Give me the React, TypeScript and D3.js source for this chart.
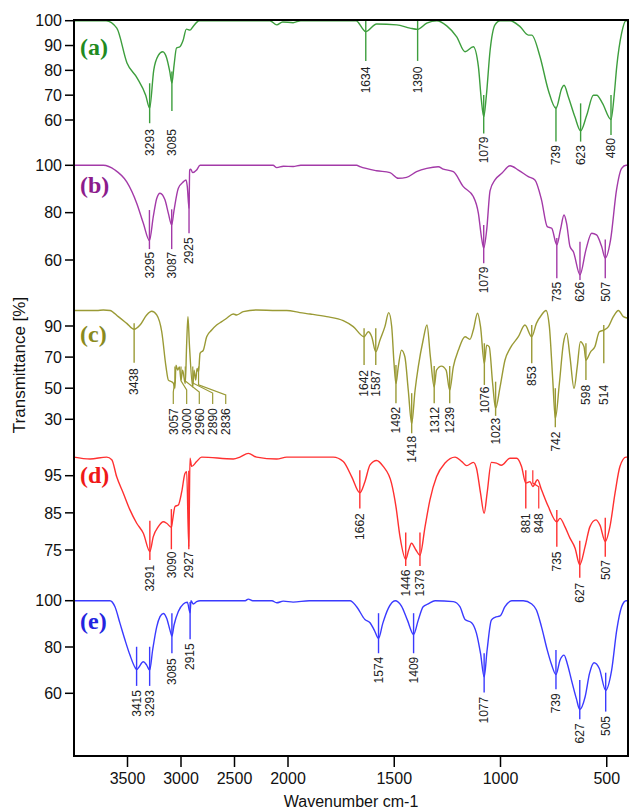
import React from "react";
import * as d3 from "d3";

// ---------- data ----------
const xBreaks = [4000, 2000, 400];
const xTicks = [3500, 3000, 2500, 2000, 1500, 1000, 500];

type P = [number, number];

const specA: P[] = [
  [4000, 100], [3700, 100], [3600, 97], [3505, 83], [3411, 77], [3330, 70], [3293, 64.8], [3255, 80],
  [3212, 86], [3171, 87.5], [3134, 85], [3105, 79.5], [3085, 74.9], [3065, 82], [3042, 89], [3010, 89.5],
  [2981, 92], [2950, 96.6], [2916, 96.2], [2888, 97.6], [2830, 100], [2170, 100], [2105, 98.3], [2050, 99.5],
  [1976, 99.2], [1940, 100], [1680, 100], [1634, 95.6], [1583, 98.7], [1488, 98.3], [1426, 97], [1390, 96.5],
  [1347, 99], [1300, 100], [1253, 97.9], [1206, 93.5], [1167, 87.5], [1128, 89.5], [1104, 81.5], [1090, 68],
  [1079, 61.3], [1067, 69.4], [1049, 88], [1026, 98.3], [1002, 100], [955, 100], [908, 97.6], [869, 94.2],
  [853, 94.2], [814, 85.5], [775, 72], [739, 64.7], [712, 72.7], [701, 74], [681, 69.4], [650, 61.3],
  [623, 55.6], [594, 62], [563, 70], [547, 70], [520, 66.7], [480, 60.2], [465, 70], [453, 81.5],
  [430, 95], [410, 100], [400, 100],
];

const specB: P[] = [
  [4000, 100], [3726, 100], [3617, 98], [3507, 93], [3414, 84], [3352, 75.5], [3295, 68.2], [3259, 78.3],
  [3227, 86], [3196, 88.2], [3150, 85.4], [3118, 79.7], [3087, 74.8], [3065, 81], [3025, 90.3], [2978, 93],
  [2953, 93.8], [2941, 91], [2925, 81.8], [2919, 98], [2910, 98.4], [2891, 96.9], [2854, 98], [2822, 100],
  [2140, 100], [2105, 99], [2043, 99.6], [1976, 99.5], [1940, 100], [1677, 100], [1661, 99.4], [1583, 97.7],
  [1520, 96.9], [1481, 94.5], [1442, 94.9], [1395, 97.3], [1347, 98.7], [1293, 99.4], [1269, 98.4], [1222, 97.3],
  [1175, 91], [1128, 86.8], [1104, 79.7], [1090, 69.9], [1079, 65], [1065, 72.7], [1049, 89.3], [1026, 93.8],
  [994, 96.6], [955, 99.8], [916, 98], [869, 95.2], [838, 93.8], [807, 85.4], [780, 74.1], [759, 73.4],
  [735, 66.4], [718, 72.7], [701, 79], [689, 75.5], [673, 65.7], [657, 63.5], [626, 53.7], [598, 64.3],
  [571, 71.3], [548, 70.6], [524, 65.7], [507, 60.8], [482, 68.5], [454, 89.6], [430, 98.7], [409, 100],
  [400, 100],
];

const specC: P[] = [
  [4000, 100], [3787, 100], [3726, 100.3], [3664, 100], [3586, 96], [3507, 91.7], [3438, 87.9], [3383, 90.6],
  [3321, 97.1], [3274, 99.5], [3227, 97.1], [3180, 86.3], [3140, 63.7], [3118, 55.2], [3087, 54.1], [3070, 53],
  [3057, 49.8], [3047, 64.8], [3031, 61.6], [3015, 63.7], [3000, 55.2], [2985, 61.6], [2960, 53], [2947, 78.8],
  [2935, 96], [2922, 78.8], [2890, 50.8], [2878, 61.6], [2862, 55.2], [2850, 62.7], [2836, 60.5], [2822, 72.4],
  [2791, 74.5], [2760, 83.1], [2713, 87.4], [2667, 90.6], [2620, 92.8], [2573, 95], [2511, 97.7], [2480, 97.1],
  [2418, 99.2], [2293, 100.3], [2106, 100], [2012, 100], [1944, 98.6], [1896, 97.7], [1818, 96], [1740, 93.4],
  [1693, 89.6], [1642, 83.1], [1622, 86.3], [1606, 83.1], [1587, 73.4], [1567, 81], [1544, 89.6], [1526, 98.6],
  [1512, 89.6], [1501, 65.9], [1492, 53], [1481, 63.7], [1466, 74.5], [1450, 70.2], [1434, 48.7], [1418, 27.2],
  [1402, 48.7], [1387, 63.7], [1364, 81], [1346, 90.6], [1330, 70.2], [1312, 50.8], [1301, 61.6], [1278, 64.2],
  [1256, 61.6], [1239, 48.7], [1222, 63.7], [1198, 74.5], [1167, 83.1], [1144, 81.4], [1128, 87.4], [1108, 98.2],
  [1094, 89.6], [1076, 65.9], [1065, 77.7], [1053, 76.6], [1037, 53], [1023, 37], [1002, 50.8], [979, 68],
  [955, 75.6], [916, 83.1], [885, 90.6], [853, 83.1], [831, 91.7], [807, 97.1], [786, 100], [770, 89.6],
  [754, 55.2], [742, 30.5], [723, 53], [704, 78.8], [689, 85.3], [673, 70.2], [654, 49.8], [639, 63.7],
  [624, 79.9], [607, 76.6], [598, 68], [576, 73.4], [556, 76.6], [535, 86.3], [514, 87.4], [492, 89.6],
  [469, 96], [445, 100], [422, 96], [400, 95],
];

const specD: P[] = [
  [4000, 100], [3850, 99.5], [3694, 100], [3647, 99.3], [3601, 94.7], [3539, 90.3], [3477, 85.8], [3414, 82.2],
  [3352, 79.5], [3291, 74.6], [3259, 78.6], [3212, 81.3], [3165, 82.6], [3134, 82.2], [3090, 81.1], [3078, 83.1],
  [3056, 86.7], [3025, 87.1], [2993, 90.7], [2963, 95.6], [2947, 96.1], [2927, 75.9], [2916, 99.7], [2900, 97.5],
  [2854, 98.8], [2807, 100], [2511, 99.5], [2449, 100], [2371, 101], [2293, 100], [2106, 99.5], [2012, 100],
  [1787, 100], [1740, 98.8], [1700, 94.7], [1662, 90.4], [1638, 93.4], [1614, 97.9], [1583, 99.1], [1552, 97.5],
  [1513, 93], [1492, 86.7], [1473, 78.6], [1446, 72.5], [1432, 75], [1419, 76.8], [1398, 75], [1379, 73.6],
  [1355, 81.3], [1332, 88.5], [1301, 94.7], [1261, 98.4], [1214, 100], [1182, 98.8], [1159, 97.7], [1128, 98.6],
  [1113, 97], [1094, 90.3], [1077, 84.9], [1063, 90.3], [1043, 98.6], [1019, 98.4], [996, 97.8], [955, 99.7],
  [924, 99.7], [901, 97.5], [881, 93], [861, 93.4], [848, 92.1], [826, 93.9], [807, 91.2], [775, 86.7],
  [735, 82.6], [720, 83.5], [697, 81.3], [673, 78.2], [649, 75.5], [627, 71], [602, 75.9], [579, 81.3],
  [551, 83.1], [532, 81.7], [507, 77.3], [485, 81.3], [461, 90.3], [438, 97.5], [409, 100], [400, 100],
];

const specE: P[] = [
  [4000, 100], [3664, 100], [3617, 97.4], [3570, 90.2], [3523, 83], [3477, 76.5], [3430, 71.2], [3415, 70.3],
  [3352, 73.6], [3321, 72.2], [3293, 70], [3265, 78.7], [3227, 88.7], [3196, 93.1], [3165, 94.5], [3134, 92.4],
  [3103, 87.3], [3085, 84.7], [3065, 89.5], [3025, 95.3], [2978, 98.6], [2941, 99.3], [2915, 94.8], [2907, 100],
  [2885, 98.6], [2854, 99.6], [2822, 100], [2400, 100], [2371, 100.7], [2330, 100], [2150, 100], [2106, 99.1],
  [2044, 99.8], [1976, 99.4], [1900, 100], [1708, 100], [1677, 97.4], [1638, 91.9], [1614, 90.5], [1594, 87.3],
  [1574, 83.7], [1554, 90.2], [1528, 96.7], [1496, 100], [1466, 97.7], [1438, 91.6], [1409, 85.4], [1387, 91.6],
  [1364, 97.4], [1340, 98.6], [1308, 100], [1222, 99.6], [1191, 97.4], [1167, 91.9], [1136, 90.5], [1113, 85.9],
  [1094, 77.2], [1077, 67.1], [1063, 78.7], [1043, 91.6], [1026, 92.8], [1002, 93.4], [979, 97.4], [947, 100],
  [893, 100], [853, 98.6], [831, 96], [807, 88.7], [780, 78.7], [759, 72.2], [739, 68.1], [720, 74.3],
  [701, 76.5], [686, 72.9], [666, 65.7], [643, 57.7], [627, 53], [602, 58.4], [581, 68.6], [560, 73.2],
  [535, 70.7], [505, 61.3], [477, 70], [453, 87.3], [430, 97.4], [409, 100], [400, 100],
];

// peak annotations: [wavenumber, line top, line bottom, label top] (transmittance units)
type Pk = [number, number, number, number];
const peaksA: Pk[] = [
  [3293, 74.8, 58.7, 56.3], [3085, 79.5, 63.6, 56.3], [1634, 100, 83.8, 81.5], [1390, 100, 83.8, 81.5],
  [1079, 70.1, 54.6, 53.3], [739, 65.4, 51.3, 49.9], [623, 66.7, 51.3, 49.9], [480, 70.1, 54, 52.7],
];
const peaksB: Pk[] = [
  [3295, 81.1, 64.6, 63.5], [3087, 81.4, 64.6, 63.5], [2925, 87.5, 71.3, 69.6], [1079, 74.8, 58.6, 57.2],
  [735, 69.3, 52.3, 50.8], [626, 67.7, 51.6, 50.8], [507, 68.7, 52.3, 50.8],
];
const peaksC: Pk[] = [
  [3438, 91.8, 66.4, 62.8], [1642, 88.6, 65, 61.7], [1587, 88.6, 65, 61.7], [1492, 65, 40.3, 38.1],
  [1418, 46.8, 21, 19.3], [1312, 64.3, 40.3, 38.1], [1239, 64.3, 40.3, 38.1], [1076, 78.9, 52.1, 51],
  [1023, 54.2, 32.2, 30.9], [853, 90.7, 66, 64.3], [742, 50, 24.9, 22.1], [598, 78.9, 55.3, 52.1],
  [514, 90.7, 66, 52.1],
];
const peaksD: Pk[] = [
  [3291, 82.9, 72.3, 71], [3090, 86, 75.2, 74.6], [2927, 96.3, 75.2, 74.6], [1662, 96.5, 86.2, 84.9],
  [1446, 79.7, 70.7, 69.7], [1379, 79.7, 70.7, 69.7], [881, 96.5, 86.2, 84.9], [735, 85.8, 75.9, 74.6],
  [627, 77.5, 67.5, 66.2], [507, 83.7, 73.2, 72.3],
];
const peaksE: Pk[] = [
  [3415, 80.1, 63.2, 61.4], [3293, 80.1, 63.2, 61.4], [3085, 94.6, 77.3, 75.1], [2915, 99.4, 83.3, 81.6],
  [1574, 94.6, 77.3, 75.8], [1409, 94.6, 77.3, 75.8], [1077, 77.3, 60.3, 58.5], [739, 78.7, 61.7, 60],
  [627, 65.7, 48.8, 47], [505, 68.9, 52.1, 50.2],
];

// leader annotations: [peak wn, label wn, top, bend at peak, bend at label, bottom, label top]
type Ld = [number, number, number, number, number, number, number];
const leadersC: Ld[] = [
  [3057, 3072, 63.9, 54.7, 47.6, 39.9, 37.1],
  [3000, 2947, 63.9, 54.7, 48.9, 39.9, 37.1],
  [2960, 2829, 63.9, 54.7, 47.6, 39.9, 37.1],
  [2890, 2704, 63.9, 53.4, 46.9, 39.9, 37.1],
  [2836, 2582, 63.9, 52.1, 45.7, 39.9, 37.1],
];
const leadersD: Ld[] = [[848, 820, 96.5, 93, 92, 86.2, 84.9]];

const panelLabels = ["(a)", "(b)", "(c)", "(d)", "(e)"];
const spectra = [specA, specB, specC, specD, specE];
const peakSets = [peaksA, peaksB, peaksC, peaksD, peaksE];
const leaderSets: Ld[][] = [[], [], leadersC, leadersD, []];
const yDomains: [number, number][] = [[60, 100], [60, 100], [30, 90], [75, 95], [60, 100]];
const yTickSets = [[100, 90, 80, 70, 60], [100, 80, 60], [90, 70, 50, 30], [95, 85, 75], [100, 80, 60]];

// ---------- styles / layout ----------
const lineColors = ["#3d9e3d", "#a33aa8", "#9a9a35", "#ff3030", "#3a3aff"];
const labelColors = ["#218a21", "#8c1c8c", "#8a8a1e", "#f01818", "#2424e0"];
const yRanges: [number, number][] = [[120, 20.7], [260, 165.3], [419.3, 326], [550, 475.7], [693.3, 600.7]];
const labelYs = [55, 193, 342, 483, 629];

const L = 74, R = 628, T = 20, B = 756;
const SANS = "'Liberation Sans', Arial, Helvetica, sans-serif";

export default function App() {
  const x = d3.scaleLinear().domain(xBreaks).range([L, 288, R]);

  return (
    <svg width={630} height={812} style={{ position: "absolute", left: 0, top: 0, background: "#fff" }}
      fontFamily={SANS}>
      <rect x={0} y={0} width={630} height={812} fill="#fff" />
      {spectra.map((spec, i) => {
        const y = d3.scaleLinear().domain(yDomains[i]).range(yRanges[i]);
        const line = d3.line<P>().x((d) => x(d[0])).y((d) => y(d[1])).curve(d3.curveMonotoneX);
        const col = lineColors[i];
        return (
          <g key={i}>
            <path d={line(spec) || ""} fill="none" stroke={col} strokeWidth={1.4} strokeLinejoin="round" />
            {peakSets[i].map((p, j) => (
              <g key={j}>
                <line x1={x(p[0])} x2={x(p[0])} y1={y(p[1])} y2={y(p[2])} stroke={col} strokeWidth={1.4} />
                <text transform={`translate(${x(p[0])},${y(p[3])}) rotate(-90)`} textAnchor="end" dy="0.36em"
                  fontSize={12} fill="#222">{p[0]}</text>
              </g>
            ))}
            {leaderSets[i].map((p, j) => {
              const pts = [[x(p[0]), y(p[2])], [x(p[0]), y(p[3])], [x(p[1]), y(p[4])], [x(p[1]), y(p[5])]];
              return (
                <g key={"l" + j}>
                  <polyline points={pts.map((q) => q.join(",")).join(" ")} fill="none" stroke={col} strokeWidth={1.2} />
                  <text transform={`translate(${x(p[1])},${y(p[6])}) rotate(-90)`} textAnchor="end" dy="0.36em"
                    fontSize={12} fill="#222">{p[0]}</text>
                </g>
              );
            })}
            {yTickSets[i].map((t) => (
              <g key={"t" + t}>
                <line x1={L - 9} x2={L} y1={y(t)} y2={y(t)} stroke="#000" strokeWidth={1.5} />
                <text x={L - 12} y={y(t)} dy="0.36em" textAnchor="end" fontSize={16} fill="#111">{t}</text>
              </g>
            ))}
            <text x={80} y={labelYs[i]} fontFamily="'Liberation Serif', 'Times New Roman', serif" fontWeight="bold"
              fontSize={24} fill={labelColors[i]}>{panelLabels[i]}</text>
          </g>
        );
      })}
      <rect x={L} y={T} width={R - L} height={B - T} fill="none" stroke="#000" strokeWidth={2} />
      {xTicks.map((t) => (
        <g key={t}>
          <line x1={x(t)} x2={x(t)} y1={B} y2={B + 11} stroke="#000" strokeWidth={1.5} />
          <text x={x(t)} y={B + 28} textAnchor="middle" fontSize={16} fill="#111">{t}</text>
        </g>
      ))}
      <text x={351} y={807} textAnchor="middle" fontSize={16} fill="#111">Wavenumber cm-1</text>
      <text transform="translate(25,365) rotate(-90)" textAnchor="middle" fontSize={17} fill="#111">Transmittance [%]</text>
    </svg>
  );
}
